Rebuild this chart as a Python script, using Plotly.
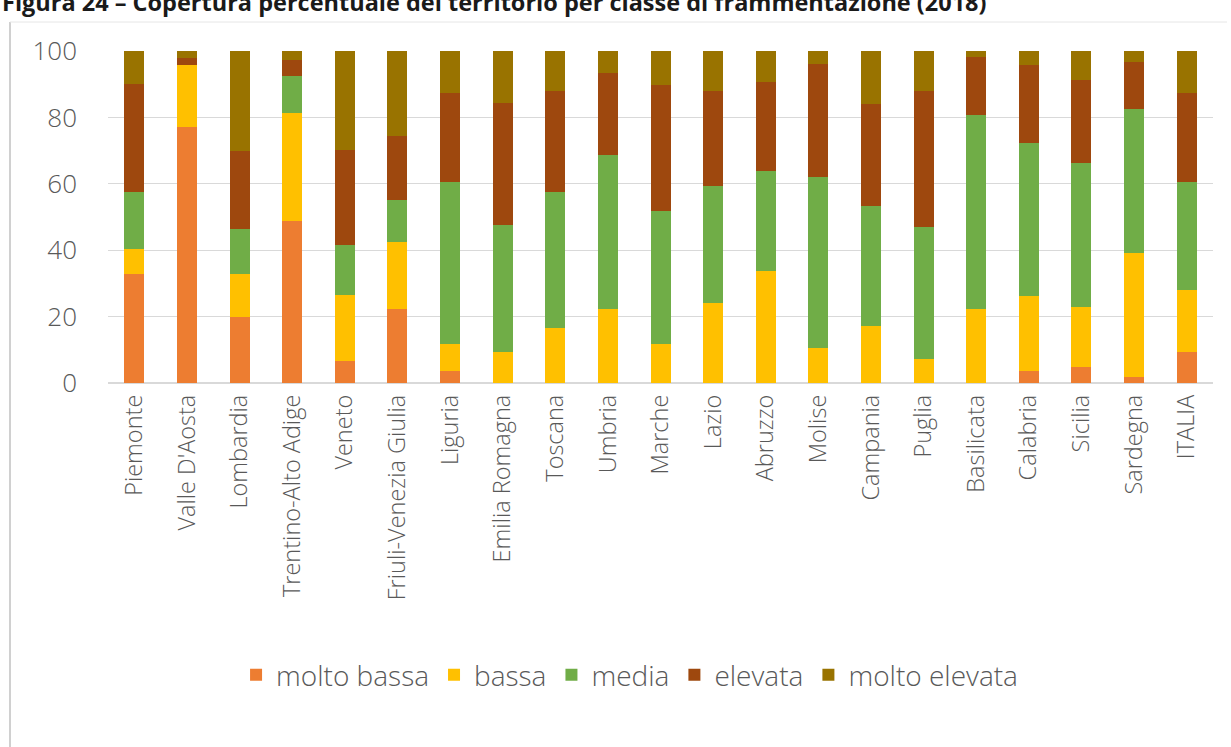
import plotly.graph_objects as go

regions = ["Piemonte", "Valle D'Aosta", "Lombardia", "Trentino-Alto Adige", "Veneto",
           "Friuli-Venezia Giulia", "Liguria", "Emilia Romagna", "Toscana", "Umbria",
           "Marche", "Lazio", "Abruzzo", "Molise", "Campania", "Puglia", "Basilicata",
           "Calabria", "Sicilia", "Sardegna", "ITALIA"]

molto_bassa = [32.8, 77.0, 19.8, 48.9, 6.7, 22.2, 3.7, 0.0, 0.0, 0.0, 0.0, 0.0, 0.0, 0.0,
               0.0, 0.0, 0.0, 3.5, 4.8, 1.7, 9.2]
bassa = [7.5, 18.7, 13.0, 32.5, 19.9, 20.4, 8.1, 9.2, 16.7, 22.2, 11.8, 24.0, 33.6, 10.5,
         17.2, 7.2, 22.2, 22.6, 18.2, 37.6, 18.7]
media = [17.3, 0.0, 13.6, 11.1, 15.0, 12.5, 48.8, 38.4, 40.7, 46.6, 40.1, 35.4, 30.2, 51.4,
         36.1, 39.9, 58.5, 46.3, 43.3, 43.2, 32.7]
elevata = [32.4, 2.3, 23.5, 4.9, 28.5, 19.2, 26.9, 36.8, 30.6, 24.7, 37.8, 28.6, 26.9, 34.3,
           30.7, 40.9, 17.5, 23.3, 25.1, 14.2, 26.9]
molto_elevata = [10.0, 2.0, 30.1, 2.6, 29.9, 25.7, 12.5, 15.6, 12.0, 6.5, 10.3, 12.0, 9.3, 3.8,
                 16.0, 12.0, 1.8, 4.3, 8.6, 3.3, 12.5]

series = [
    ("molto bassa", molto_bassa, "#ED7D31"),
    ("bassa", bassa, "#FFC000"),
    ("media", media, "#70AD47"),
    ("elevata", elevata, "#9E480E"),
    ("molto elevata", molto_elevata, "#997300"),
]

title_text = "Figura 24 – Copertura percentuale del territorio per classe di frammentazione (2018)"

fig = go.Figure()
for name, vals, col in series:
    fig.add_trace(go.Bar(x=regions, y=vals, name=name, marker=dict(color=col, line=dict(width=0))))

W, H = 1231, 747
L, R, T, B = 108, 18, 51, 364

fig.update_layout(
    width=W, height=H,
    barmode="stack", bargap=0.62,
    paper_bgcolor="white", plot_bgcolor="white",
    margin=dict(l=L, r=R, t=T, b=B, pad=0),
    font=dict(family="Open Sans", color="#595959", size=22),
    xaxis=dict(tickangle=-90, showgrid=False, showline=False, ticks="",
               tickfont=dict(size=23.5, color="#595959", weight=300), ticklabelstandoff=6),
    yaxis=dict(range=[0, 100], tickvals=[0, 20, 40, 60, 80, 100], showgrid=True,
               gridcolor="#D9D9D9", gridwidth=1, zeroline=True, zerolinecolor="#D9D9D9",
               showline=False, ticks="", tickfont=dict(size=26, color="#595959", weight=300),
               ticklabelstandoff=30),
    legend=dict(orientation="h", x=0.472, xanchor="center", y=-0.88, yanchor="middle",
                font=dict(size=28, color="#595959", weight=300), traceorder="normal",
                itemwidth=30, bgcolor="rgba(0,0,0,0)"),
    showlegend=True,
)

ph = H - T - B
fig.add_annotation(text="<b>" + title_text + "</b>", xref="paper", yref="paper",
                   x=-L / (W - L - R), xanchor="left",
                   y=1 + (T - 2) / ph, yanchor="middle", showarrow=False,
                   font=dict(family="Open Sans", size=23.5, color="#1a1a1a"))

# chart frame (left and top edges)
fig.add_shape(type="line", xref="paper", yref="paper",
              x0=-(L - 10) / (W - L - R), x1=-(L - 10) / (W - L - R),
              y0=1 + (T - 22) / ph, y1=-(H - T - ph) / ph - 0.01,
              line=dict(color="#D0D0D0", width=2))
fig.add_shape(type="line", xref="paper", yref="paper",
              x0=-(L - 10) / (W - L - R), x1=1 + (R - 4) / (W - L - R),
              y0=1 + (T - 22) / ph, y1=1 + (T - 22) / ph,
              line=dict(color="#E6E6E6", width=1))

fig.write_html("out.html")
